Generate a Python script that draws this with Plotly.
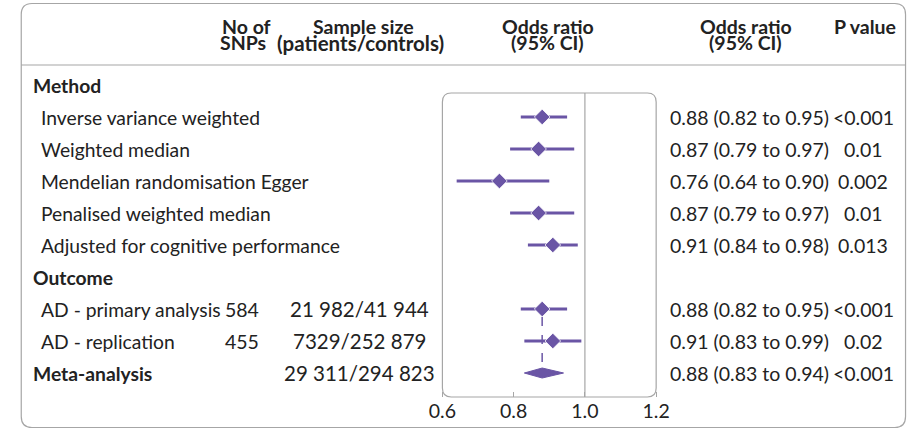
import plotly.graph_objects as go

# ---------------- data ----------------
row_labels = ["Method", "Inverse variance weighted", "Weighted median",
              "Mendelian randomisation Egger", "Penalised weighted median",
              "Adjusted for cognitive performance", "Outcome",
              "AD - primary analysis", "AD - replication", "Meta-analysis"]
row_bold = [True, False, False, False, False, False, True, False, False, True]
row_indent = [False, True, True, True, True, True, False, True, True, False]
snps = ["", "", "", "", "", "", "", "584", "455", ""]
sample_size = ["", "", "", "", "", "", "", "21 982/41 944", "7329/252 879", "29 311/294 823"]
or_est = [None, 0.88, 0.87, 0.76, 0.87, 0.91, None, 0.88, 0.91, 0.88]
ci_low = [None, 0.82, 0.79, 0.64, 0.79, 0.84, None, 0.82, 0.83, 0.83]
ci_high = [None, 0.95, 0.97, 0.90, 0.97, 0.98, None, 0.95, 0.99, 0.94]
or_text = ["", "0.88 (0.82 to 0.95)", "0.87 (0.79 to 0.97)", "0.76 (0.64 to 0.90)",
           "0.87 (0.79 to 0.97)", "0.91 (0.84 to 0.98)", "", "0.88 (0.82 to 0.95)",
           "0.91 (0.83 to 0.99)", "0.88 (0.83 to 0.94)"]
p_text = ["", "<0.001", "0.01", "0.002", "0.01", "0.013", "", "<0.001", "0.02", "<0.001"]
meta_row = 9
primary_row = 7
tick_vals = [0.6, 0.8, 1.0, 1.2]
tick_text = ["0.6", "0.8", "1.0", "1.2"]

# ---------------- style ----------------
W, H = 918, 430
PURPLE = "#6a55a5"
TEXT = "#222222"
GRAY = "#a6a6a6"
FONT = "Lato"
FS = 19.3
FS_NUM = 19.5
FS_HDR = 19.5

def px(x):
    return x / W

def py(y):
    return 1 - y / H

row0_px, row_step = 85, 32
y_top = -row0_px / row_step
y_bot = (H - row0_px) / row_step

fig = go.Figure()

# point estimates with CI (meta-analysis drawn as polygon)
pts = [i for i in range(len(row_labels)) if or_est[i] is not None and i != meta_row]
fig.add_trace(go.Scatter(
    x=[or_est[i] for i in pts], y=pts, mode="markers",
    marker=dict(symbol="diamond", size=12, color=PURPLE, line=dict(color="white", width=0.8)),
    error_x=dict(type="data", symmetric=False,
                 array=[ci_high[i] - or_est[i] for i in pts],
                 arrayminus=[or_est[i] - ci_low[i] for i in pts],
                 color=PURPLE, thickness=3, width=0),
    hoverinfo="skip", showlegend=False))

# meta-analysis diamond
h = 5 / row_step
fig.add_trace(go.Scatter(
    x=[ci_low[meta_row], or_est[meta_row], ci_high[meta_row], or_est[meta_row], ci_low[meta_row]],
    y=[meta_row, meta_row - h, meta_row, meta_row + h, meta_row],
    mode="lines", fill="toself", fillcolor=PURPLE, line=dict(color=PURPLE, width=1),
    hoverinfo="skip", showlegend=False))

# dashed line from primary analysis to meta-analysis
fig.add_shape(type="line", xref="x", yref="y", x0=or_est[meta_row], x1=or_est[meta_row],
              y0=primary_row + 0.25, y1=meta_row - h,
              line=dict(color=PURPLE, width=1.5, dash="dash"))

# reference line at 1
plot_top, plot_bot = 0.25, 9.75
fig.add_shape(type="line", xref="x", yref="y", x0=1.0, x1=1.0, y0=plot_top, y1=plot_bot,
              line=dict(color=GRAY, width=1.2), layer="below")

# rounded rectangle helper (paper coords from pixels)
def rrect(x0, y0, x1, y1, r):
    X = lambda v: px(v)
    Y = lambda v: py(v)
    return (f"M {X(x0 + r)} {Y(y0)} L {X(x1 - r)} {Y(y0)} Q {X(x1)} {Y(y0)} {X(x1)} {Y(y0 + r)} "
            f"L {X(x1)} {Y(y1 - r)} Q {X(x1)} {Y(y1)} {X(x1 - r)} {Y(y1)} "
            f"L {X(x0 + r)} {Y(y1)} Q {X(x0)} {Y(y1)} {X(x0)} {Y(y1 - r)} "
            f"L {X(x0)} {Y(y0 + r)} Q {X(x0)} {Y(y0)} {X(x0 + r)} {Y(y0)} Z")

x_left_px, x_right_px = 442, 661
plot_top_px = row0_px + row_step * plot_top
plot_bot_px = row0_px + row_step * plot_bot
fig.add_shape(type="path", xref="paper", yref="paper",
              path=rrect(x_left_px, plot_top_px, x_right_px, plot_bot_px, 9),
              line=dict(color=GRAY, width=1.2), layer="below")
# outer frame
fig.add_shape(type="path", xref="paper", yref="paper",
              path=rrect(10.5, 3.5, 916.5, 427.5, 11),
              line=dict(color=GRAY, width=1.2), layer="below")
# header separator
fig.add_shape(type="line", xref="paper", yref="paper", x0=px(10.5), x1=px(916.5),
              y0=py(65), y1=py(65), line=dict(color=GRAY, width=1.2))

def ann(text, x, y, xanchor="left", bold=False, yref="y", size=FS):
    fig.add_annotation(text=f"<b>{text}</b>" if bold else text, x=x, y=y,
                       xref="paper", yref=yref, xanchor=xanchor, yanchor="middle",
                       align=xanchor, showarrow=False, borderpad=0, borderwidth=0,
                       font=dict(family=FONT, size=size, color=TEXT))

# column headers
hdr1, hdr2 = py(26), py(43)
ann("No of", px(241), hdr1, "center", True, "paper", FS_HDR)
ann("SNPs", px(238), hdr2, "center", True, "paper", FS_HDR)
ann("Sample size", px(361), hdr1, "center", True, "paper", FS_HDR)
ann("(patients/controls)", px(358), hdr2, "center", True, "paper", 20.5)
ann("Odds ratio", px(550), hdr1, "center", True, "paper", FS_HDR)
ann("(95% CI)", px(550), hdr2, "center", True, "paper", FS_HDR)
ann("Odds ratio", px(753), hdr1, "center", True, "paper", FS_HDR)
ann("(95% CI)", px(753), hdr2, "center", True, "paper", FS_HDR)
ann("P value", px(875), hdr1, "center", True, "paper", FS_HDR)

for i, lab in enumerate(row_labels):
    ann(lab, px(31 if row_indent[i] else 23), i, "left", row_bold[i])
    if snps[i]:
        ann(snps[i], px(237), i, "center", size=FS_NUM)
    if sample_size[i]:
        ann(sample_size[i], px(357), i, "center", size=20.5)
    if or_text[i]:
        ann(or_text[i], px(675), i, "left", size=FS_NUM)
    if p_text[i]:
        ann(p_text[i], px(873), i, "center", size=FS_NUM)

pad = 3
span = x_right_px - x_left_px
fig.update_layout(
    width=W, height=H, margin=dict(l=0, r=0, t=0, b=0),
    paper_bgcolor="white", plot_bgcolor="rgba(0,0,0,0)",
    xaxis=dict(domain=[px(x_left_px - pad), px(x_right_px + pad)],
               range=[0.6 - pad * 0.6 / span, 1.2 + pad * 0.6 / span],
               anchor="free", position=py(plot_bot_px),
               tickvals=tick_vals, ticktext=tick_text, ticks="inside", ticklen=5,
               tickcolor=GRAY, showgrid=False, zeroline=False, showline=False,
               tickfont=dict(family=FONT, size=FS_NUM, color=TEXT)),
    yaxis=dict(domain=[0, 1], range=[y_bot, y_top], visible=False, showgrid=False, zeroline=False),
)

fig.write_html("out.html", config={"displayModeBar": False},
               post_script="document.body.style.margin='0';document.body.style.overflow='hidden';")
